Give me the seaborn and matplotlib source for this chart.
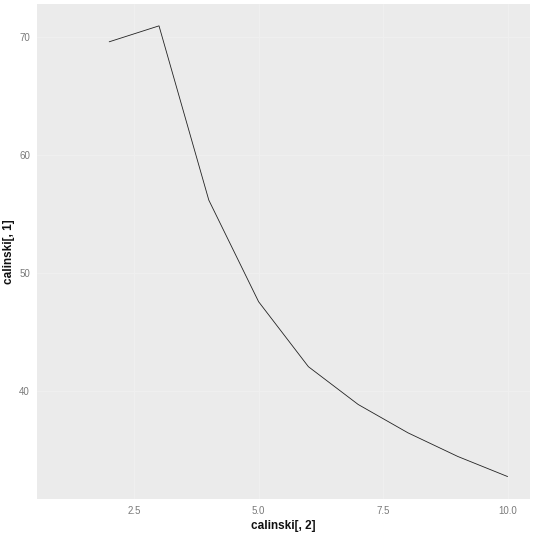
import matplotlib
matplotlib.use("Agg")
import matplotlib.pyplot as plt
import seaborn as sns
import pandas as pd

# calinski criterion vs number of clusters (k = 1 is undefined)
k_values = [1, 2, 3, 4, 5, 6, 7, 8, 9, 10]
calinski_values = [None, 69.6, 70.95, 56.2, 47.6, 42.1, 38.9, 36.5, 34.5, 32.8]

x_ticks = [2.5, 5.0, 7.5, 10.0]
x_tick_labels = ["2.5", "5.0", "7.5", "10.0"]
y_ticks = [40, 50, 60, 70]

df = pd.DataFrame({"k": k_values, "calinski": calinski_values}).astype(float)

sns.set_style("darkgrid", {"axes.facecolor": "#EBEBEB", "grid.color": "#EFEFEF"})
plt.rcParams["font.family"] = ["Liberation Sans", "DejaVu Sans"]

fig = plt.figure(figsize=(5.33, 5.33), dpi=100)
ax = fig.add_axes([37 / 533, 1 - 499 / 533, 493 / 533, 495 / 533])

sns.lineplot(data=df, x="k", y="calinski", ax=ax, color="#222222", linewidth=0.6)

ax.set_xlim(0.55, 10.45)
ax.set_ylim(30.9, 72.8)
ax.set_xticks(x_ticks)
ax.set_xticklabels(x_tick_labels)
ax.set_yticks(y_ticks)
ax.grid(True, which="major", color="#EFEFEF", linewidth=0.8)
for s in ax.spines.values():
    s.set_visible(False)
ax.tick_params(axis="both", which="major", length=3, width=0.6, color="#8A8A8A",
               labelsize=7, labelcolor="#7A7A7A", pad=2)

ax.set_xlabel("calinski[, 2]", fontsize=8.5, fontweight="bold", color="#111111", labelpad=3)
ax.set_ylabel("calinski[, 1]", fontsize=8.5, fontweight="bold", color="#111111", labelpad=3)

fig.savefig("out.png", dpi=100)
